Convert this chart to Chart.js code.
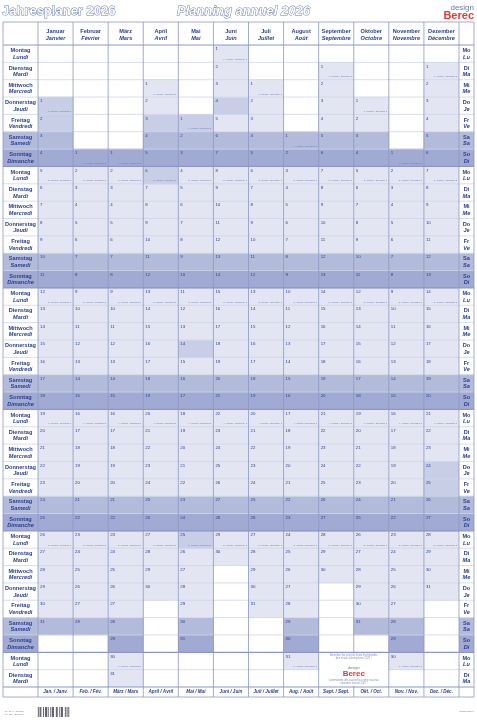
<!DOCTYPE html>
<html><head><meta charset="utf-8">
<script src="https://cdn.jsdelivr.net/npm/chart.js@4"></script>
<style>html,body{margin:0;padding:0;background:#fff}#w{width:477px;height:720px}</style>
</head><body><div id="w"><canvas id="c" width="477" height="720"></canvas></div>
<script>
const monthsDe = ["Januar","Februar","März","April","Mai","Juni","Juli","August","September","Oktober","November","Dezember"];
const monthsFr = ["Janvier","Février","Mars","Avril","Mai","Juin","Juillet","Août","Septembre","Octobre","Novembre","Décembre"];
const footDe = ["Jan.","Feb.","März","April","Mai","Juni","Juli","Aug.","Sept.","Okt.","Nov.","Dez."];
const footFr = ["Janv.","Fév.","Mars","Avril","Mai","Juin","Juillet","Août","Sept.","Oct.","Nov.","Déc."];
const daysDe = ["Montag","Dienstag","Mittwoch","Donnerstag","Freitag","Samstag","Sonntag"];
const daysFr = ["Lundi","Mardi","Mercredi","Jeudi","Vendredi","Samedi","Dimanche"];
const abbrDe = ["Mo","Di","Mi","Do","Fr","Sa","So"];
const abbrFr = ["Lu","Ma","Me","Je","Ve","Sa","Di"];
const firstWeekday = [3,6,6,2,4,0,2,5,1,3,6,1];
const monthLength = [31,28,31,30,31,30,31,31,30,31,30,31];
const holidays = ["0-1","0-2","3-3","3-6","4-1","4-14","4-25","5-4","7-1","9-3","10-1","11-24","11-25","11-26"];
const ROWS = 37;

const ink = "#2b3f8f", grid = "#f4f5fa";
const cellCol = w => w===5 ? "#b3bbdb" : (w===6 ? "#a1aad2" : "#e3e6f2");

const datasets = [];
for (let r=0;r<ROWS;r++){
  datasets.push({
    data: monthsDe.map((_,m)=>{const d=r-firstWeekday[m]+1; return (d>=1&&d<=monthLength[m])?[r,r+1]:null;}),
    backgroundColor: c => {
      const m=c.dataIndex, d=r-firstWeekday[m]+1, w=r%7;
      if (w<5 && holidays.includes(m+"-"+d)) return "#c9cee7";
      return cellCol(w);
    },
    borderWidth:0, barPercentage:1, categoryPercentage:1
  });
}

const deco = {
  id:'deco',
  beforeDatasetsDraw(ch){
    const {ctx, scales:{x,y}, chartArea:a} = ch;
    const L=3, R=474;
    ctx.save();
    for(let r=0;r<ROWS;r++){
      const w=r%7; if(w<5) continue;
      ctx.fillStyle=cellCol(w);
      const y0=y.getPixelForValue(r), y1=y.getPixelForValue(r+1);
      ctx.fillRect(L,y0,a.left-L,y1-y0); ctx.fillRect(a.right,y0,R-a.right,y1-y0);
    }
    ctx.restore();
  },
  afterDatasetsDraw(ch){
    const {ctx, scales:{x,y}, chartArea:a} = ch;
    const L=3, R=474, hTop=22, fBot=697;
    const cw = x.getPixelForValue(1)-x.getPixelForValue(0);
    ctx.save();
    for(let r=0;r<=ROWS;r++){
      const yy=y.getPixelForValue(r);
      const major = (r%7===0||r===ROWS);
      ctx.lineWidth = major?1.2:0.8; ctx.strokeStyle=major?"#8d97c4":"#cfd4e8";
      ctx.beginPath(); ctx.moveTo(L,yy); ctx.lineTo(R,yy); ctx.stroke();
    }
    ctx.lineWidth=0.8; ctx.strokeStyle="#8d97c4";
    const vx=[L,a.left]; for(let m=0;m<12;m++) vx.push(x.getPixelForValue(m)+cw/2); vx.push(R);
    vx.forEach(v=>{ctx.beginPath();ctx.moveTo(v,hTop);ctx.lineTo(v,fBot);ctx.stroke();});
    [hTop,fBot].forEach(v=>{ctx.beginPath();ctx.moveTo(L,v);ctx.lineTo(R,v);ctx.stroke();});
    ctx.fillStyle=ink; ctx.textAlign='center'; ctx.textBaseline='middle';
    for(let m=0;m<12;m++){
      const cx=x.getPixelForValue(m);
      ctx.font="bold 5.6px 'Liberation Sans'"; ctx.fillText(monthsDe[m],cx,hTop+9);
      ctx.font="italic bold 5.6px 'Liberation Sans'"; ctx.fillText(monthsFr[m],cx,hTop+16);
      ctx.font="italic bold 4.6px 'Liberation Sans'";
      ctx.fillText(footDe[m]+" / "+footFr[m],cx,(a.bottom+fBot)/2);
    }
    for(let r=0;r<ROWS;r++){
      const w=r%7, y0=y.getPixelForValue(r), y1=y.getPixelForValue(r+1), cy=(y0+y1)/2;
      ctx.textAlign='center'; ctx.fillStyle=ink;
      ctx.font="bold 5.6px 'Liberation Sans'"; ctx.fillText(daysDe[w],(L+a.left)/2,cy-3);
      ctx.font="italic bold 5.6px 'Liberation Sans'"; ctx.fillText(daysFr[w],(L+a.left)/2,cy+3.5);
      ctx.font="bold 5.6px 'Liberation Sans'"; ctx.fillText(abbrDe[w],(a.right+R)/2,cy-3);
      ctx.font="italic bold 5.6px 'Liberation Sans'"; ctx.fillText(abbrFr[w],(a.right+R)/2,cy+3.5);
      for(let m=0;m<12;m++){
        const d=r-firstWeekday[m]+1; if(d<1||d>monthLength[m]) continue;
        const lx=x.getPixelForValue(m)-cw/2;
        ctx.textAlign='left'; ctx.font="4.4px 'Liberation Sans'"; ctx.fillStyle=ink;
        ctx.fillText(String(d),lx+2,y0+4);
        if(w===0 || d===1){
          ctx.textAlign='right'; ctx.font="2.4px 'Liberation Sans'"; ctx.fillStyle="#6b78b0";
          ctx.fillText(Math.floor(r/7)+1+". Woche / Semaine ▸",lx+cw-2,y1-3);
        }
      }
    }
    ctx.textBaseline='alphabetic'; ctx.textAlign='left'; ctx.lineWidth=0.9; ctx.strokeStyle="#6877b3"; ctx.fillStyle="#fff";
    ctx.font="bold 13px 'Liberation Sans'";
    ctx.strokeText("Jahresplaner 2026",2,15); ctx.fillText("Jahresplaner 2026",2,15);
    ctx.font="italic bold 13px 'Liberation Sans'";
    ctx.strokeText("Planning annuel 2026",177,15); ctx.fillText("Planning annuel 2026",177,15);
    ctx.textAlign='right'; ctx.fillStyle="#6b78b0"; ctx.font="8px 'Liberation Sans'"; ctx.fillText("design",474,10);
    ctx.fillStyle="#e03a3a"; ctx.font="bold 11px 'Liberation Sans'"; ctx.fillText("Berec",474,19);
    const bx=x.getPixelForValue(8)-cw/2, by=y.getPixelForValue(35);
    ctx.fillStyle="#fff"; ctx.fillRect(bx+1,by+1,cw*2-2,y.getPixelForValue(37)-by-2);
    ctx.textAlign='center'; ctx.fillStyle="#8790bb"; ctx.font="2.6px 'Liberation Sans'";
    ctx.fillText("Bestellen Sie jetzt bei Ihrem Fachhändler",bx+cw,by+4);
    ctx.fillText("den neuen Jahresplaner 2027 !",bx+cw,by+7);
    ctx.fillStyle="#6b78b0"; ctx.font="4px 'Liberation Sans'"; ctx.fillText("design",bx+cw,by+17);
    ctx.fillStyle="#e03a3a"; ctx.font="bold 8px 'Liberation Sans'"; ctx.fillText("Berec",bx+cw,by+24);
    ctx.fillStyle="#8790bb"; ctx.font="2.6px 'Liberation Sans'";
    ctx.fillText("Commandez dès aujourd'hui votre nouveau",bx+cw,by+29);
    ctx.fillText("calendrier annuel 2027 !",bx+cw,by+32);
    ctx.textAlign='left'; ctx.font="2.5px 'Liberation Sans'"; ctx.fillStyle="#777";
    ctx.fillText("Art.-Nr. 9. 290026",4,712); ctx.fillText("Art.-Nr. 9.290026",4,715);
    ctx.textAlign='right'; ctx.fillText("design Berec",474,712);
    ctx.fillStyle="#223";
    [1,3,4,7,9,10,12,15,17,18,21,22,25,27,28,31,33,35].forEach(i=>ctx.fillRect(37+i*0.9,707,0.7,10));
    ctx.restore();
  }
};

new Chart(document.getElementById('c'),{
  type:'bar',
  data:{labels:monthsDe, datasets},
  options:{
    responsive:false, animation:false,
    layout:{padding:{left:38,right:18,top:45,bottom:33}},
    plugins:{legend:{display:false},tooltip:{enabled:false}},
    scales:{
      x:{stacked:true, display:false, offset:true},
      y:{stacked:false, display:false, min:0, max:ROWS, reverse:true}
    }
  },
  plugins:[deco]
});
</script></body></html>
